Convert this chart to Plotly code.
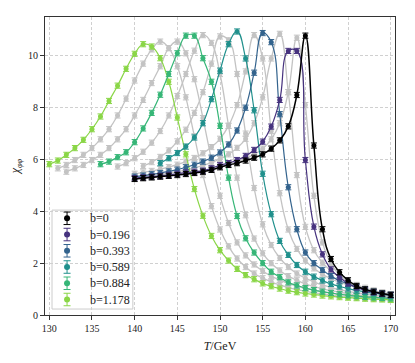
import plotly.graph_objects as go

# susceptibility chi_phiphi vs T, curves for b = k*pi/32, k = 0..12
# every curve is sampled at integer T from its first T up to 170 GeV
t_end = 170

start_k0 = 140
chi_k0 = [5.25, 5.28, 5.31, 5.34, 5.37, 5.40, 5.44, 5.48, 5.53, 5.60, 5.70, 5.79, 5.86, 5.96, 6.07, 6.20,
          6.42, 6.74, 7.28, 8.49, 10.78, 6.54, 3.31, 2.16, 1.65, 1.34, 1.12, 0.99, 0.90, 0.83, 0.78]

start_k1 = 140
chi_k1 = [5.26, 5.29, 5.32, 5.35, 5.39, 5.42, 5.46, 5.50, 5.55, 5.62, 5.73, 5.82, 5.91, 6.04, 6.20, 6.42,
          6.78, 7.40, 8.60, 10.70, 8.10, 4.60, 2.80, 1.98, 1.55, 1.28, 1.10, 0.97, 0.88, 0.81, 0.77]

start_k2 = 140
chi_k2 = [5.28, 5.31, 5.34, 5.37, 5.41, 5.45, 5.50, 5.53, 5.57, 5.66, 5.78, 5.86, 5.98, 6.14, 6.37, 6.69,
          7.27, 8.30, 10.19, 10.19, 5.98, 3.41, 2.34, 1.76, 1.46, 1.22, 1.06, 0.95, 0.87, 0.81, 0.76]

start_k3 = 140
chi_k3 = [5.31, 5.34, 5.38, 5.42, 5.47, 5.53, 5.60, 5.68, 5.77, 5.88, 6.02, 6.20, 6.45, 6.80, 7.40, 8.40,
          9.90, 10.85, 8.60, 5.40, 3.40, 2.50, 2.02, 1.70, 1.48, 1.30, 1.16, 1.05, 0.95, 0.87, 0.80]

start_k4 = 140
chi_k4 = [5.34, 5.38, 5.43, 5.48, 5.54, 5.61, 5.70, 5.80, 5.92, 6.07, 6.27, 6.58, 7.12, 8.00, 9.35, 10.88,
          10.53, 7.75, 4.93, 3.31, 2.41, 2.00, 1.74, 1.50, 1.33, 1.20, 1.08, 0.98, 0.90, 0.83, 0.78]

start_k5 = 140
chi_k5 = [5.45, 5.50, 5.56, 5.63, 5.71, 5.80, 5.92, 6.06, 6.24, 6.48, 6.80, 7.30, 8.10, 9.40, 10.80, 9.90,
          7.10, 4.70, 3.30, 2.55, 2.10, 1.80, 1.57, 1.40, 1.27, 1.16, 1.07, 0.99, 0.92, 0.86, 0.80]

start_k6 = 143
chi_k6 = [5.86, 6.05, 6.25, 6.50, 6.85, 7.40, 8.33, 9.43, 10.45, 10.94, 9.90, 7.90, 5.45, 3.89, 2.86, 2.32,
          1.93, 1.67, 1.48, 1.33, 1.20, 1.10, 1.02, 0.95, 0.89, 0.84, 0.80, 0.76]

start_k7 = 141
chi_k7 = [5.75, 5.90, 6.10, 6.35, 6.70, 7.15, 7.80, 8.60, 9.70, 10.75, 10.60, 9.30, 7.00, 4.90, 3.50, 2.70,
          2.20, 1.85, 1.60, 1.42, 1.28, 1.16, 1.06, 0.98, 0.91, 0.86, 0.81, 0.77, 0.74, 0.71]

start_k8 = 138
chi_k8 = [5.73, 5.86, 6.05, 6.30, 6.65, 7.10, 7.70, 8.45, 9.30, 10.20, 10.80, 10.50, 9.30, 7.30, 5.30, 3.85,
          2.95, 2.38, 2.00, 1.72, 1.50, 1.34, 1.20, 1.10, 1.01, 0.94, 0.88, 0.83, 0.78, 0.74, 0.71, 0.68, 0.66]

start_k9 = 136
chi_k9 = [5.82, 5.92, 6.09, 6.28, 6.67, 7.20, 7.80, 8.50, 9.30, 10.10, 10.78, 10.78, 9.91, 9.00, 7.30, 5.30,
          3.82, 2.96, 2.41, 2.00, 1.67, 1.46, 1.26, 1.14, 1.04, 0.96, 0.90, 0.85, 0.80, 0.76, 0.73, 0.70, 0.68,
          0.66, 0.64]

start_k10 = 132
chi_k10 = [5.53, 5.66, 5.79, 5.98, 6.18, 6.44, 6.78, 7.17, 7.70, 8.30, 8.95, 9.60, 10.30, 10.55, 10.10, 9.10,
           7.60, 6.00, 4.60, 3.55, 2.80, 2.30, 1.95, 1.70, 1.50, 1.35, 1.22, 1.12, 1.03, 0.96, 0.90, 0.85,
           0.80, 0.77, 0.73, 0.70, 0.67, 0.65, 0.63]

start_k11 = 131
chi_k11 = [5.66, 5.79, 5.98, 6.18, 6.44, 6.78, 7.17, 7.70, 8.35, 9.05, 9.70, 10.25, 10.55, 10.30, 9.60, 8.40,
           6.90, 5.40, 4.20, 3.30, 2.65, 2.18, 1.85, 1.60, 1.42, 1.28, 1.16, 1.06, 0.98, 0.92, 0.86, 0.81,
           0.77, 0.74, 0.71, 0.68, 0.66, 0.64, 0.62, 0.60]

start_k12 = 130
chi_k12 = [5.82, 5.96, 6.18, 6.44, 6.76, 7.17, 7.66, 8.26, 8.85, 9.50, 10.08, 10.45, 10.36, 9.91, 9.00, 7.62,
           6.20, 4.86, 3.83, 3.05, 2.50, 2.10, 1.78, 1.54, 1.38, 1.22, 1.11, 1.02, 0.94, 0.88, 0.83, 0.79,
           0.75, 0.72, 0.69, 0.67, 0.65, 0.63, 0.61, 0.60, 0.58]

chi_err = 0.1

series = [(start_k0, chi_k0), (start_k1, chi_k1), (start_k2, chi_k2), (start_k3, chi_k3),
          (start_k4, chi_k4), (start_k5, chi_k5), (start_k6, chi_k6), (start_k7, chi_k7),
          (start_k8, chi_k8), (start_k9, chi_k9), (start_k10, chi_k10), (start_k11, chi_k11),
          (start_k12, chi_k12)]

# coloured curves and their legend labels, the rest is grey
legend_k = [0, 2, 4, 6, 9, 12]
labels = {0: "b=0", 2: "b=0.196", 4: "b=0.393", 6: "b=0.589", 9: "b=0.884", 12: "b=1.178"}
colors = {0: "#000000", 2: "#46327e", 4: "#33638d", 6: "#20908c", 9: "#36b677", 12: "#8ad647"}
grey = "#c3c3c3"

serif = "Liberation Serif, DejaVu Serif, serif"
ink = "#222222"

fig = go.Figure()


def add_curve(k, color, width):
    t0, chi = series[k]
    T = list(range(t0, t_end + 1))
    fig.add_trace(go.Scatter(
        x=T, y=chi, mode="lines+markers", showlegend=False, hoverinfo="skip",
        line=dict(color=color, width=width, shape="spline", smoothing=1.3),
        marker=dict(color=color, size=5),
        error_y=dict(type="constant", value=chi_err, color=color, thickness=1, width=3)))


# grey ones behind
for k in range(13):
    if k not in colors:
        add_curve(k, grey, 1.3)

# coloured ones on top, black last
for k in [12, 9, 6, 4, 2, 0]:
    add_curve(k, colors[k], 1.5 if k == 0 else 1.2)

# hand made legend (matplotlib style errorbar handles), in a 0..1 overlay frame
leg_x0, leg_x1, leg_top, leg_bot = 0.02, 0.251, 0.352, 0.020
leg_step = 0.0545
leg_y = [leg_top - 0.0275 - i * leg_step for i in range(len(legend_k))]
fig.add_shape(type="rect", xref="paper", yref="paper", x0=leg_x0, x1=leg_x1, y0=leg_bot, y1=leg_top,
              fillcolor="rgba(255,255,255,0.85)", line=dict(color="#cccccc", width=1), layer="between")
for i, k in enumerate(legend_k):
    fig.add_trace(go.Scatter(
        x=[0.063], y=[leg_y[i]], xaxis="x2", yaxis="y2", mode="markers", showlegend=False,
        hoverinfo="skip", marker=dict(color=colors[k], size=6),
        error_y=dict(type="constant", value=0.021, color=colors[k], thickness=1, width=3.5)))
    fig.add_annotation(x=0.123, y=leg_y[i], xref="paper", yref="paper", text=labels[k], showarrow=False,
                       xanchor="left", yanchor="middle", font=dict(family=serif, size=12, color=ink))

axis_common = dict(
    showline=True, linecolor="#333333", linewidth=1.2, mirror=True,
    ticks="outside", ticklen=4, tickcolor="#333333",
    showgrid=True, gridcolor="#d0d0d0", griddash="3px,2px", gridwidth=0.8,
    zeroline=False, tickfont=dict(family=serif, size=10, color=ink), automargin=False,
)

# the page body adds 8px around the figure, margins make up for it
fig.update_layout(
    width=415, height=363,
    margin=dict(l=37, r=28, t=9, b=56),
    paper_bgcolor="white", plot_bgcolor="white",
    showlegend=False,
    xaxis=dict(range=[129.5, 170.5], tickvals=[130, 135, 140, 145, 150, 155, 160, 165, 170],
               title=dict(text="<i>T</i>/GeV", font=dict(family=serif, size=12, color=ink), standoff=8),
               **axis_common),
    yaxis=dict(range=[0, 11.5], tickvals=[0, 2, 4, 6, 8, 10],
               title=dict(text="<i>χ</i><sub><i>φφ</i></sub>", font=dict(family=serif, size=12, color=ink),
                          standoff=12),
               **axis_common),
    xaxis2=dict(overlaying="x", range=[0, 1], visible=False, fixedrange=True),
    yaxis2=dict(overlaying="y", range=[0, 1], visible=False, fixedrange=True),
)

fig.write_html("out.html")
